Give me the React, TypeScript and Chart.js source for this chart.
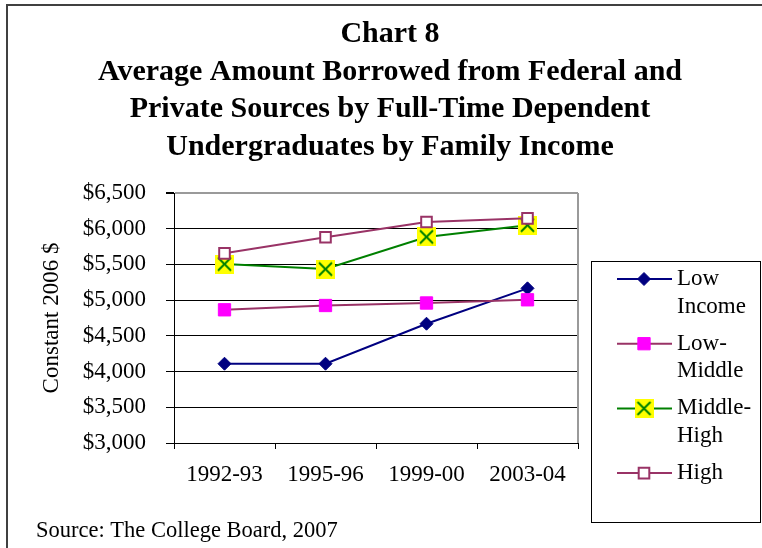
import React, { useEffect, useRef } from "react";
import { Chart, registerables } from "chart.js";
import { drawPoint } from "chart.js/helpers";

Chart.register(...registerables);

const categories = ["1992-93", "1995-96", "1999-00", "2003-04"];
const lowIncome = [4110, 4110, 4670, 5165];
const lowMiddle = [4865, 4925, 4960, 5005];
const middleHigh = [5505, 5435, 5885, 6050];
const high = [5655, 5880, 6095, 6145];
const seriesNames = [["Low", "Income"], ["Low-", "Middle"], ["Middle-", "High"], ["High"]];
const titleLines = [
  "Chart 8",
  "Average Amount Borrowed from Federal and",
  "Private Sources by Full-Time Dependent",
  "Undergraduates by Family Income",
];
const yMin = 3000;
const yMax = 6500;
const yStep = 500;
const yAxisTitle = "Constant 2006 $";
const sourceNote = "Source: The College Board, 2007";

const SERIF = "'Liberation Serif', 'Times New Roman', serif";

function makeXMarker(): HTMLCanvasElement {
  const c = document.createElement("canvas");
  c.width = 19;
  c.height = 19;
  const g = c.getContext("2d")!;
  g.fillStyle = "#FFFF00";
  g.fillRect(0, 0, 19, 19);
  g.strokeStyle = "#008000";
  g.lineWidth = 2;
  g.beginPath();
  g.moveTo(3, 3);
  g.lineTo(16, 16);
  g.moveTo(16, 3);
  g.lineTo(3, 16);
  g.stroke();
  return c;
}

const decorPlugin = {
  id: "decor",
  afterDraw(chart: any) {
    const ctx = chart.ctx as CanvasRenderingContext2D;
    const ca = chart.chartArea;
    ctx.save();
    // outer frame
    ctx.strokeStyle = "#404040";
    ctx.lineWidth = 2;
    ctx.beginPath();
    ctx.moveTo(7, 548);
    ctx.lineTo(7, 5);
    ctx.lineTo(762, 5);
    ctx.stroke();

    // plot area right border
    ctx.strokeStyle = "#9a9a9a";
    ctx.lineWidth = 2;
    ctx.beginPath();
    ctx.moveTo(ca.right, ca.top);
    ctx.lineTo(ca.right, ca.bottom);
    ctx.stroke();

    // title
    ctx.fillStyle = "#000";
    ctx.textAlign = "center";
    ctx.textBaseline = "alphabetic";
    ctx.font = `bold 30px ${SERIF}`;
    titleLines.forEach((t, i) => {
      ctx.fillText(t, 390, 42 + i * 37.7);
    });

    // source
    ctx.textAlign = "left";
    ctx.font = `22.5px ${SERIF}`;
    ctx.fillText(sourceNote, 36, 537);

    // legend
    ctx.strokeStyle = "#000";
    ctx.lineWidth = 1;
    ctx.strokeRect(591.5, 261.5, 169, 261);
    ctx.font = `23px ${SERIF}`;
    ctx.textBaseline = "middle";
    chart.data.datasets.forEach((ds: any, i: number) => {
      const y = 279 + i * 64.7;
      ctx.strokeStyle = ds.borderColor;
      ctx.lineWidth = 2;
      ctx.beginPath();
      ctx.moveTo(617, y);
      ctx.lineTo(672, y);
      ctx.stroke();
      ctx.fillStyle = ds.pointBackgroundColor;
      ctx.strokeStyle = ds.pointBorderColor;
      ctx.lineWidth = ds.pointBorderWidth;
      drawPoint(
        ctx,
        { pointStyle: ds.pointStyle, radius: ds.pointRadius, rotation: 0, borderWidth: ds.pointBorderWidth },
        644,
        y
      );
      ctx.fillStyle = "#000";
      seriesNames[i].forEach((line, j) => {
        ctx.fillText(line, 677, y + j * 27.6);
      });
    });
    ctx.restore();
  },
};

export default function App() {
  const ref = useRef<HTMLCanvasElement | null>(null);
  useEffect(() => {
    if (!ref.current) return;
    const xMarker = makeXMarker();
    const chart = new Chart(ref.current, {
      type: "line",
      data: {
        labels: categories,
        datasets: [
          {
            label: "Low Income",
            data: lowIncome,
            borderColor: "#000080",
            backgroundColor: "#000080",
            borderWidth: 2,
            pointStyle: "rectRot",
            pointRadius: 6.5,
            pointBackgroundColor: "#000080",
            pointBorderColor: "#000080",
            pointBorderWidth: 1,
            order: 3,
          },
          {
            label: "Low-Middle",
            data: lowMiddle,
            borderColor: "#993366",
            backgroundColor: "#FF00FF",
            borderWidth: 2,
            pointStyle: "rect",
            pointRadius: 8.7,
            pointBackgroundColor: "#FF00FF",
            pointBorderColor: "#FF00FF",
            pointBorderWidth: 1,
            order: 2,
          },
          {
            label: "Middle-High",
            data: middleHigh,
            borderColor: "#008000",
            backgroundColor: "#FFFF00",
            borderWidth: 2,
            pointStyle: xMarker as any,
            pointRadius: 9,
            pointBackgroundColor: "#FFFF00",
            pointBorderColor: "#008000",
            pointBorderWidth: 1,
            order: 1,
          },
          {
            label: "High",
            data: high,
            borderColor: "#993366",
            backgroundColor: "#FFFFFF",
            borderWidth: 2,
            pointStyle: "rect",
            pointRadius: 7.5,
            pointBackgroundColor: "#FFFFFF",
            pointBorderColor: "#993366",
            pointBorderWidth: 2,
            order: 0,
          },
        ],
      },
      options: {
        animation: false,
        responsive: false,
        devicePixelRatio: 1,
        layout: { padding: { top: 193, left: 0, right: 184, bottom: 0 } },
        plugins: {
          legend: { display: false },
          title: { display: false },
          tooltip: { enabled: false },
        },
        scales: {
          x: {
            type: "category",
            offset: true,
            afterFit: (s: any) => {
              s.height = 105;
            },
            grid: {
              offset: true,
              drawOnChartArea: false,
              drawTicks: true,
              tickLength: 6,
              tickColor: "#000",
              lineWidth: 1,
            },
            border: { display: true, color: "#000", width: 1 },
            ticks: {
              color: "#000",
              font: { family: SERIF, size: 23 },
              padding: 12,
              maxRotation: 0,
            },
          },
          y: {
            min: yMin,
            max: yMax,
            afterFit: (s: any) => {
              s.width = 174;
            },
            ticks: {
              stepSize: yStep,
              color: "#000",
              font: { family: SERIF, size: 23 },
              padding: 20,
              callback: (v: any) => "$" + Number(v).toLocaleString("en-US"),
            },
            grid: {
              color: (c: any) => (c.tick && c.tick.value === yMax ? "#9a9a9a" : "#000"),
              lineWidth: (c: any) => (c.tick && c.tick.value === yMax ? 2 : 1),
              tickColor: "#000",
              tickLength: 8,
            },
            border: { display: true, color: "#000", width: 1 },
            title: {
              display: true,
              text: yAxisTitle,
              color: "#000",
              font: { family: SERIF, size: 23 },
              padding: { top: 38, bottom: 0 },
            },
          },
        },
      },
      plugins: [decorPlugin],
    });
    return () => chart.destroy();
  }, []);
  return (
    <div style={{ position: "absolute", left: 0, top: 0, width: 762, height: 548, background: "#fff" }}>
      <canvas ref={ref} width={762} height={548} style={{ display: "block", width: 762, height: 548 }} />
    </div>
  );
}
